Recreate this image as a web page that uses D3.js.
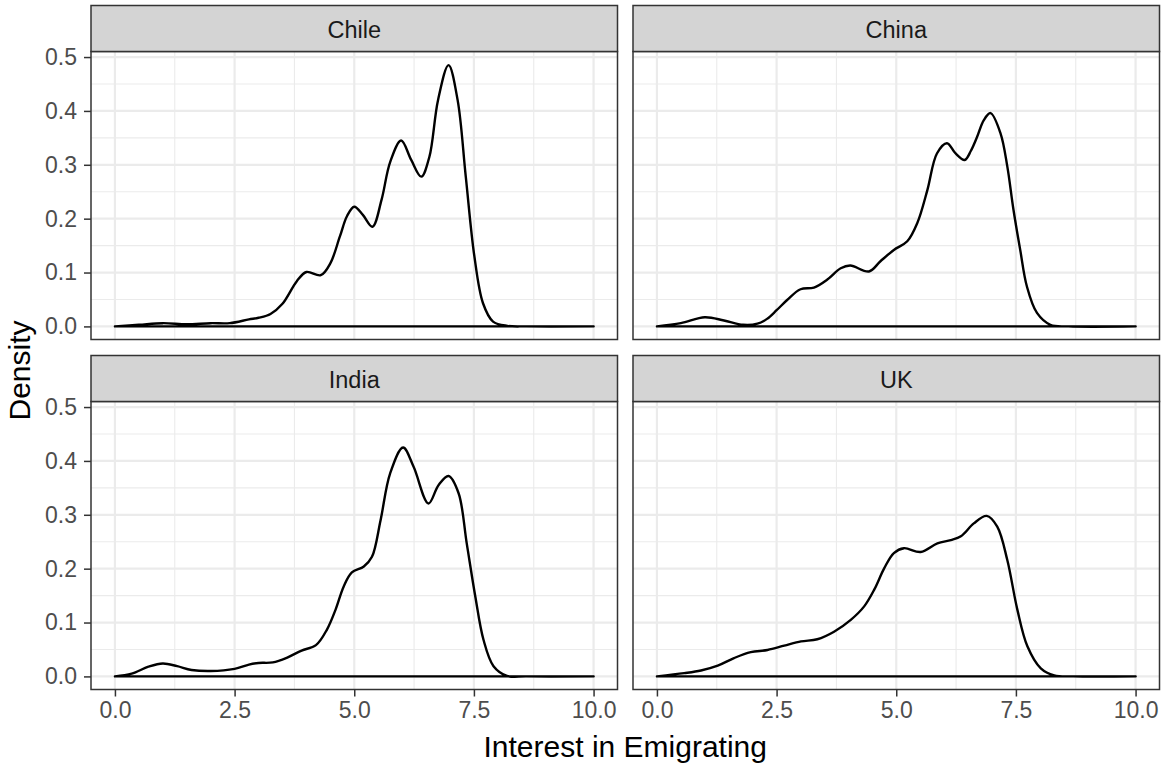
<!DOCTYPE html>
<html><head><meta charset="utf-8">
<script src="https://cdn.jsdelivr.net/npm/d3@7"></script>
<style>
html,body{margin:0;padding:0;background:#fff;}
svg{display:block;font-family:"Liberation Sans",Arial,Helvetica,sans-serif;}
</style></head>
<body>
<svg id="chart" width="1174" height="769"></svg>
<script>
// ---- data ----
const countries = ["Chile", "China", "India", "UK"];
const chile = [[0,0],[0.5,0.003],[1.0,0.006],[1.5,0.004],[2.0,0.006],[2.4,0.006],[2.8,0.013],[3.0,0.016],[3.25,0.023],[3.5,0.042],[3.8,0.084],[4.0,0.101],[4.3,0.095],[4.5,0.117],[4.7,0.167],[4.85,0.205],[5.0,0.222],[5.18,0.207],[5.38,0.185],[5.57,0.235],[5.75,0.305],[5.98,0.345],[6.19,0.309],[6.4,0.278],[6.57,0.315],[6.75,0.42],[6.97,0.485],[7.16,0.42],[7.33,0.278],[7.51,0.13],[7.69,0.043],[7.9,0.009],[8.2,0.001],[8.6,0],[10,0]];
const china = [[0,0],[0.5,0.006],[1.0,0.017],[1.4,0.011],[1.8,0.003],[2.1,0.005],[2.3,0.014],[2.5,0.03],[2.72,0.049],[3.0,0.069],[3.28,0.072],[3.56,0.087],[3.84,0.108],[4.04,0.113],[4.43,0.102],[4.67,0.121],[4.95,0.142],[5.23,0.158],[5.44,0.192],[5.65,0.253],[5.85,0.321],[6.06,0.34],[6.24,0.321],[6.43,0.309],[6.56,0.326],[6.69,0.352],[6.83,0.383],[6.97,0.396],[7.18,0.358],[7.32,0.297],[7.45,0.216],[7.59,0.142],[7.73,0.074],[7.94,0.025],[8.22,0.003],[8.6,0],[10,0]];
const india = [[0,0],[0.35,0.005],[0.7,0.018],[1.0,0.024],[1.3,0.019],[1.6,0.012],[2.0,0.010],[2.5,0.014],[2.8,0.022],[3.0,0.025],[3.3,0.026],[3.6,0.035],[3.9,0.048],[4.2,0.058],[4.43,0.087],[4.61,0.124],[4.78,0.167],[4.95,0.193],[5.2,0.204],[5.37,0.222],[5.55,0.29],[5.75,0.377],[6.02,0.425],[6.24,0.389],[6.55,0.321],[6.76,0.355],[6.97,0.372],[7.18,0.34],[7.35,0.247],[7.53,0.148],[7.7,0.068],[7.91,0.019],[8.19,0.001],[8.6,0],[10,0]];
const uk = [[0,0],[0.57,0.006],[0.92,0.011],[1.27,0.02],[1.61,0.034],[1.96,0.045],[2.31,0.049],[2.66,0.057],[3.01,0.065],[3.35,0.069],[3.7,0.083],[4.05,0.105],[4.33,0.13],[4.54,0.161],[4.75,0.201],[4.95,0.229],[5.16,0.238],[5.51,0.231],[5.86,0.247],[6.14,0.253],[6.35,0.26],[6.62,0.284],[6.89,0.298],[7.11,0.278],[7.32,0.216],[7.53,0.124],[7.74,0.056],[8.02,0.015],[8.3,0.002],[8.7,0],[10,0]];
const seriesList = [chile, china, india, uk];
const xTicks = [0, 2.5, 5, 7.5, 10];
const xMinor = [1.25, 3.75, 6.25, 8.75];
const yTicks = [0, 0.1, 0.2, 0.3, 0.4, 0.5];
const yMinor = [0.05, 0.15, 0.25, 0.35, 0.45];
const xTitle = "Interest in Emigrating";
const yTitle = "Density";

// ---- layout ----
const svg = d3.select("#chart");
const colX = [91, 633];
const panelW = 526.5;
const rowY = [5.5, 355.5];
const stripH = 46;
const panelH = 288;

const x = d3.scaleLinear().domain([-0.5, 10.5]).range([0, panelW]);
const yMax = 0.486;
const y = d3.scaleLinear().domain([-0.05 * yMax, yMax * 1.05]).range([panelH, 0]);

const line = d3.line().x(d => x(d[0])).y(d => y(Math.max(0, d[1]))).curve(d3.curveCatmullRom.alpha(0.5));

countries.forEach((name, i) => {
  const col = i % 2, row = Math.floor(i / 2);
  const px = colX[col], sy = rowY[row], py = sy + stripH;
  const g = svg.append("g").attr("transform", `translate(${px},${py})`);

  // panel background + grid
  g.append("rect").attr("width", panelW).attr("height", panelH).attr("fill", "#fff");
  g.selectAll(".ymin").data(yMinor).join("line")
    .attr("x1", 0).attr("x2", panelW).attr("y1", d => y(d)).attr("y2", d => y(d))
    .attr("stroke", "#ebebeb").attr("stroke-width", 1.1);
  g.selectAll(".xmin").data(xMinor).join("line")
    .attr("y1", 0).attr("y2", panelH).attr("x1", d => x(d)).attr("x2", d => x(d))
    .attr("stroke", "#ebebeb").attr("stroke-width", 1.1);
  g.selectAll(".ymaj").data(yTicks).join("line")
    .attr("x1", 0).attr("x2", panelW).attr("y1", d => y(d)).attr("y2", d => y(d))
    .attr("stroke", "#ebebeb").attr("stroke-width", 2.2);
  g.selectAll(".xmaj").data(xTicks).join("line")
    .attr("y1", 0).attr("y2", panelH).attr("x1", d => x(d)).attr("x2", d => x(d))
    .attr("stroke", "#ebebeb").attr("stroke-width", 2.2);

  // density outline (closed along baseline)
  const data = seriesList[i];
  const pathD = line(data) + `L${x(data[data.length-1][0])},${y(0)}L${x(data[0][0])},${y(0)}Z`;
  g.append("path").attr("d", pathD).attr("fill", "none")
    .attr("stroke", "#000").attr("stroke-width", 2.4).attr("stroke-linejoin", "round");

  // panel border
  g.append("rect").attr("width", panelW).attr("height", panelH)
    .attr("fill", "none").attr("stroke", "#333333").attr("stroke-width", 1.5);

  // strip
  const s = svg.append("g").attr("transform", `translate(${px},${sy})`);
  s.append("rect").attr("width", panelW).attr("height", stripH)
    .attr("fill", "#d4d4d4").attr("stroke", "#333333").attr("stroke-width", 1.5);
  s.append("text").attr("x", panelW / 2).attr("y", 32.5).attr("text-anchor", "middle")
    .attr("font-size", 23.5).attr("fill", "#1a1a1a").text(name);

  // axes
  if (col === 0) {
    const ay = g.append("g").call(d3.axisLeft(y).tickValues(yTicks).tickFormat(d3.format(".1f")).tickSize(7).tickPadding(7));
    ay.select(".domain").remove();
    ay.selectAll("line").attr("stroke", "#333333").attr("stroke-width", 1.5);
    ay.selectAll("text").attr("font-size", 23).attr("fill", "#4d4d4d").attr("font-family", "Liberation Sans, Arial, sans-serif");
  }
  if (row === 1) {
    const ax = g.append("g").attr("transform", `translate(0,${panelH})`)
      .call(d3.axisBottom(x).tickValues(xTicks).tickFormat(d3.format(".1f")).tickSize(7).tickPadding(5));
    ax.select(".domain").remove();
    ax.selectAll("line").attr("stroke", "#333333").attr("stroke-width", 1.5);
    ax.selectAll("text").attr("font-size", 23).attr("fill", "#4d4d4d").attr("font-family", "Liberation Sans, Arial, sans-serif");
  }
});

// titles
svg.append("text").attr("x", (colX[0] + colX[1] + panelW) / 2).attr("y", 757)
  .attr("text-anchor", "middle").attr("font-size", 30).attr("fill", "#000").text(xTitle);
svg.append("text").attr("transform", `translate(30,${(rowY[0] + stripH + rowY[1] + stripH + panelH) / 2}) rotate(-90)`)
  .attr("text-anchor", "middle").attr("font-size", 30).attr("fill", "#000").text(yTitle);
</script>
</body></html>
